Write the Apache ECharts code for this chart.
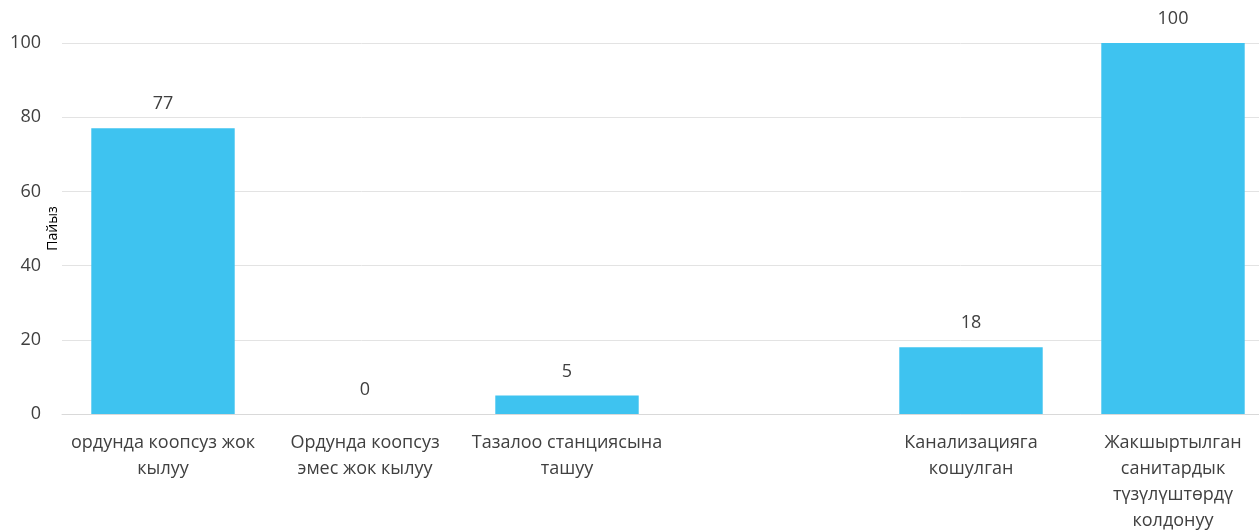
<!DOCTYPE html>
<html>
<head>
<meta charset="utf-8">
<script src="https://cdn.jsdelivr.net/npm/echarts@6/dist/echarts.min.js"></script>
<style>html,body{margin:0;padding:0;background:#fff}#c{width:1259px;height:531px}</style>
</head>
<body>
<div id="c"></div>
<script>
const categories = [
  'ордунда коопсуз жок\nкылуу',
  'Ордунда коопсуз\nэмес жок кылуу',
  'Тазалоо станциясына\nташуу',
  '',
  'Канализацияга\nкошулган',
  'Жакшыртылган\nсанитардык\nтүзүлүштөрдү\nколдонуу'
];
const values = [77, 0, 5, null, 18, 100];
const yTicks = { min: 0, max: 100, interval: 20 };
const yName = 'Пайыз';

const chart = echarts.init(document.getElementById('c'));
chart.setOption({
  animation: false,
  grid: { left: 62, right: -15, top: 43, bottom: 117, containLabel: false, outerBoundsMode: 'none' },
  xAxis: {
    type: 'category',
    data: categories,
    axisTick: { show: false },
    axisLine: { show: true, lineStyle: { color: '#d9d9d9' } },
    axisLabel: { interval: 0, color: '#404040', fontFamily: 'Open Sans', fontSize: 18, lineHeight: 26, margin: 16 }
  },
  yAxis: {
    type: 'value',
    min: yTicks.min, max: yTicks.max, interval: yTicks.interval,
    name: yName,
    nameLocation: 'middle',
    nameGap: 2,
    nameMoveOverlap: false,
    nameTextStyle: { color: '#000', fontFamily: 'Open Sans', fontSize: 14 },
    axisLine: { show: false },
    axisTick: { show: false },
    axisLabel: { color: '#404040', fontFamily: 'Open Sans', fontSize: 18, margin: 21 },
    splitLine: { lineStyle: { color: '#e3e3e3' } }
  },
  series: [{
    type: 'bar',
    data: values,
    barCategoryGap: '29%',
    itemStyle: { color: '#3EC3F0' },
    label: { show: true, position: 'top', distance: 15, color: '#404040', fontFamily: 'Open Sans', fontSize: 18 }
  }]
});
</script>
</body>
</html>
